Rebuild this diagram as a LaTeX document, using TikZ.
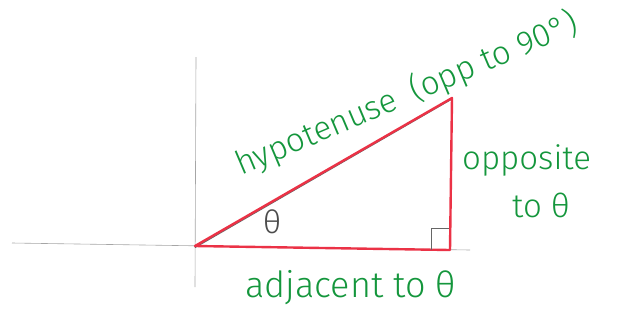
\documentclass[tikz,border=0pt]{standalone}
\usepackage{fontspec}
\setmainfont{Fira Sans Light}
\definecolor{pen}{RGB}{20,150,60}
\definecolor{tri}{RGB}{235,50,70}
\begin{document}
\begin{tikzpicture}[x=1pt,y=-1pt,
  axis/.style={draw=gray!70,line width=0.6pt},
  side/.style={draw=tri,line width=2.4pt,line cap=round,line join=round},
  lbl/.style={text=pen,font=\fontsize{33}{36}\selectfont,inner sep=0pt}]
\useasboundingbox (0,0) rectangle (621,322);
\coordinate (xl) at (12,243);
\coordinate (xr) at (470,250);
\coordinate (yt) at (196,57);
\coordinate (yb) at (195,287);
\draw[axis] (xl) -- (xr);
\draw[axis] (yt) -- (yb);
\coordinate (A) at (195,246);
\coordinate (B) at (452,98);
\coordinate (C) at (450,250);
\draw[draw=gray!80!black,line width=1.2pt] ([yshift=-1.5pt]A) -- ([yshift=-1.5pt,xshift=-1pt]B);
\draw[side] (A) -- (B) -- (C) -- cycle;
\coordinate (r1) at (431,250);
\coordinate (r2) at (431,228);
\coordinate (r3) at (449,228);
\draw[draw=gray!80!black,line width=0.7pt] (r1) -- (r2) -- (r3);
\node[text=gray!60!black,font=\fontsize{32}{34}\selectfont] (th) at (272,222) {θ};
\node[lbl,rotate=23,anchor=south west] (hyp) at (244,182) {hypotenuse\hspace{0.5em}(opp to 90°)};
\node[lbl,anchor=west] (opp) at (462,160) {opposite};
\node[lbl,anchor=west] (to) at (512,205) {to θ};
\node[lbl,font=\fontsize{36}{38}\selectfont,anchor=west] (adj) at (245,288) {adjacent to θ};
\end{tikzpicture}
\end{document}
